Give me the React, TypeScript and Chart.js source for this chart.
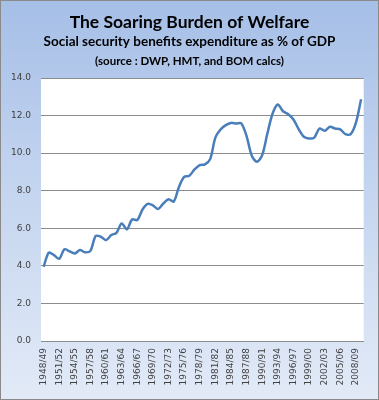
import React, { useEffect, useRef } from "react";
import { Chart, registerables } from "chart.js";

Chart.register(...registerables);

const TITLE = "The Soaring Burden of Welfare";
const SUBTITLE = "Social security benefits expenditure as % of GDP";
const SOURCE = "(source : DWP, HMT, and BOM calcs)";

const years: string[] = [
  "1948/49", "1949/50", "1950/51", "1951/52", "1952/53", "1953/54", "1954/55", "1955/56",
  "1956/57", "1957/58", "1958/59", "1959/60", "1960/61", "1961/62", "1962/63", "1963/64",
  "1964/65", "1965/66", "1966/67", "1967/68", "1968/69", "1969/70", "1970/71", "1971/72",
  "1972/73", "1973/74", "1974/75", "1975/76", "1976/77", "1977/78", "1978/79", "1979/80",
  "1980/81", "1981/82", "1982/83", "1983/84", "1984/85", "1985/86", "1986/87", "1987/88",
  "1988/89", "1989/90", "1990/91", "1991/92", "1992/93", "1993/94", "1994/95", "1995/96",
  "1996/97", "1997/98", "1998/99", "1999/00", "2000/01", "2001/02", "2002/03", "2003/04",
  "2004/05", "2005/06", "2006/07", "2007/08", "2008/09", "2009/10",
];

const benefitsPctGdp: number[] = [
  3.95, 4.7, 4.57, 4.38, 4.88, 4.77, 4.66, 4.84,
  4.72, 4.8, 5.59, 5.55, 5.37, 5.64, 5.76, 6.26,
  5.94, 6.47, 6.44, 7.0, 7.3, 7.22, 7.03, 7.32,
  7.55, 7.42, 8.2, 8.74, 8.8, 9.13, 9.36, 9.4,
  9.68, 10.83, 11.26, 11.49, 11.61, 11.58, 11.58, 10.9,
  9.86, 9.54, 9.9, 11.05, 12.11, 12.59, 12.23, 12.07,
  11.79, 11.28, 10.87, 10.78, 10.83, 11.31, 11.19, 11.4,
  11.31, 11.26, 11.01, 11.01, 11.61, 12.87,
];

const yTickMin = 0;
const yTickMax = 14;
const yTickStep = 2;
const xLabelEvery = 3;

const W = 379;
const H = 400;

const plotBg = {
  id: "plotBg",
  beforeDraw(chart: any) {
    const { ctx, chartArea } = chart;
    ctx.save();
    ctx.fillStyle = "#ffffff";
    ctx.fillRect(chartArea.left, chartArea.top, chartArea.right - chartArea.left, chartArea.bottom - chartArea.top);
    ctx.restore();
  },
};

const headings = {
  id: "headings",
  afterDraw(chart: any) {
    const { ctx } = chart;
    ctx.save();
    ctx.fillStyle = "#000000";
    ctx.textAlign = "center";
    ctx.textBaseline = "middle";
    ctx.font = "bold 17.5px Lato";
    ctx.fillText(TITLE, W / 2, 22);
    ctx.font = "bold 13.5px Lato";
    ctx.fillText(SUBTITLE, W / 2, 42);
    ctx.font = "bold 11.5px Lato";
    ctx.fillText(SOURCE, W / 2, 61);
    ctx.restore();
  },
};

export default function App() {
  const ref = useRef<HTMLCanvasElement | null>(null);

  useEffect(() => {
    if (!ref.current) return;
    const chart = new Chart(ref.current, {
      type: "line",
      data: {
        labels: years,
        datasets: [
          {
            data: benefitsPctGdp,
            borderColor: "#4a7ebb",
            borderWidth: 2.5,
            pointRadius: 0,
            tension: 0.3,
            fill: false,
          },
        ],
      },
      options: {
        responsive: false,
        animation: false,
        layout: { padding: { top: 78, right: 14, left: 0, bottom: 0 } },
        plugins: {
          legend: { display: false },
          tooltip: { enabled: false },
          title: { display: false },
        },
        scales: {
          x: {
            type: "category",
            offset: true,
            grid: { display: false, drawTicks: false },
            border: { display: true, color: "#8c8c8c", width: 1 },
            ticks: {
              autoSkip: false,
              minRotation: 90,
              maxRotation: 90,
              padding: 7,
              color: "#404040",
              font: { family: "DejaVu Sans", size: 9 },
              callback: (_v: any, i: number) => (i % xLabelEvery === 0 ? years[i] : ""),
            },
            afterFit: (scale: any) => {
              scale.height = 59;
            },
          },
          y: {
            min: yTickMin,
            max: yTickMax,
            grid: { color: "#8c8c8c", lineWidth: 1, drawTicks: false },
            border: { display: false },
            ticks: {
              stepSize: yTickStep,
              padding: 10,
              color: "#404040",
              font: { family: "DejaVu Sans", size: 9 },
              callback: (v: any) => Number(v).toFixed(1),
            },
            afterFit: (scale: any) => {
              scale.width = 41;
            },
          },
        },
      },
      plugins: [plotBg, headings],
    });
    return () => chart.destroy();
  }, []);

  return (
    <div
      style={{
        position: "fixed",
        left: 0,
        top: 0,
        width: W,
        height: H,
        boxSizing: "border-box",
        border: "1px solid #8a8a8a",
        background: "linear-gradient(to bottom, #a6bfe7 0%, #c3d4ef 45%, #e2eaf7 100%)",
      }}
    >
      <canvas ref={ref} width={W} height={H} style={{ position: "absolute", left: -1, top: -1, width: W, height: H }} />
    </div>
  );
}
